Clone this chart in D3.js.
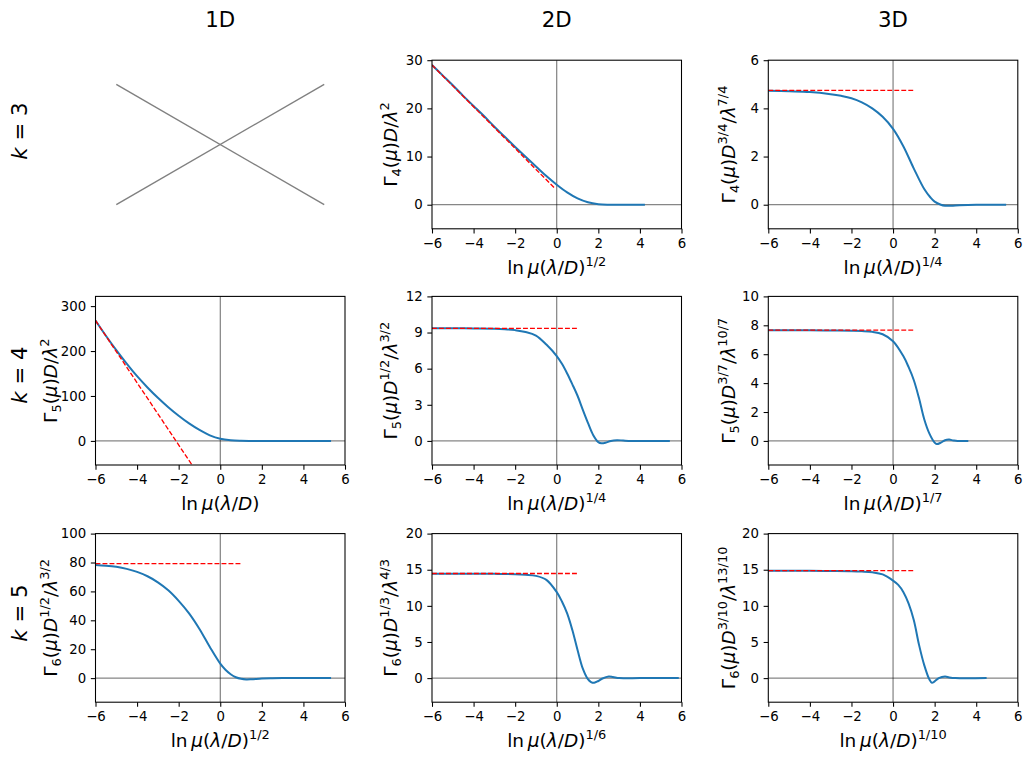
<!DOCTYPE html>
<html><head><meta charset="utf-8">
<script src="https://cdn.jsdelivr.net/npm/d3@7"></script>
<style>body{margin:0;background:#fff} text{font-family:"DejaVu Sans",sans-serif;fill:#000}</style>
</head><body><svg id="c" width="1032" height="762"></svg>
<script>
// ---------------- data ----------------
const colTitles = ["1D", "2D", "3D"];
const rowLabels = ["k = 3", "k = 4", "k = 5"];
const xTicks = [-6, -4, -2, 0, 2, 4, 6];

// placeholder cross in the empty (1D, k=3) cell
const crossX = [0, 1];
const crossUp = [0, 1];
const crossDown = [1, 0];

// k = 3
const k3_2D = [[-6,29.0],[-5.5,26.9],[-5,24.8],[-4.5,22.6],[-4,20.5],[-3.5,18.4],[-3,16.2],[-2.5,14.1],[-2,12.0],[-1.5,9.95],[-1,7.95],[-0.5,5.95],[0,4.15],[0.5,2.55],[1,1.3],[1.5,0.5],[2,0.12],[2.5,0.01],[3,0],[3.5,0],[4.24,0]];
const k3_2D_asym = [[-6,29.0],[-0.08,3.35]];
const k3_3D = [[-6,4.73],[-5,4.71],[-4,4.68],[-3,4.59],[-2.5,4.52],[-2,4.42],[-1.5,4.25],[-1,4.0],[-0.5,3.65],[0,3.15],[0.5,2.42],[1,1.5],[1.5,0.65],[1.8,0.3],[2,0.13],[2.3,0.0],[2.5,-0.04],[2.8,-0.04],[3.2,-0.02],[4,0],[5.44,0]];
const k3_3D_asym = [[-6,4.75],[1.03,4.75]];
// k = 4
const k4_1D = [[-6,268],[-5.5,234],[-5,202],[-4.5,172],[-4,144],[-3.5,119],[-3,96],[-2.5,75],[-2,56],[-1.5,39],[-1,24.5],[-0.5,12.5],[0,4.8],[0.5,1.4],[1,0.3],[1.5,0.05],[2,0],[5.33,0]];
const k4_1D_asym = [[-6,268],[-1.3,-57.5]];
const k4_2D = [[-6,9.35],[-5,9.35],[-4,9.34],[-3,9.32],[-2.5,9.28],[-2,9.2],[-1.5,9.05],[-1,8.75],[-0.5,8.0],[0,7.05],[0.25,6.4],[0.5,5.6],[0.75,4.7],[1,3.75],[1.25,2.6],[1.5,1.5],[1.75,0.5],[2,-0.1],[2.15,-0.2],[2.35,-0.15],[2.6,0],[2.9,0.06],[3.2,0.03],[3.6,0],[5.44,0]];
const k4_2D_asym = [[-6,9.35],[1.0,9.35]];
const k4_3D = [[-6,7.65],[-4,7.65],[-3,7.64],[-2,7.62],[-1.5,7.6],[-1,7.55],[-0.5,7.38],[0,6.9],[0.5,5.85],[0.75,5.1],[1,4.2],[1.25,2.95],[1.5,1.5],[1.75,0.5],[2,-0.12],[2.1,-0.22],[2.3,-0.12],[2.5,0.05],[2.7,0.09],[2.9,0.03],[3.1,-0.01],[3.62,0]];
const k4_3D_asym = [[-6,7.67],[1.03,7.67]];
// k = 5
const k5_1D = [[-6,78.3],[-5.5,77.8],[-5,77.0],[-4.5,75.6],[-4,73.5],[-3.5,70.5],[-3,66.3],[-2.5,60.8],[-2,53.5],[-1.5,44.8],[-1,34],[-0.5,21.5],[0,10],[0.25,5.8],[0.5,2.7],[0.75,0.6],[1,-0.5],[1.25,-0.9],[1.5,-0.8],[2,-0.3],[2.5,-0.1],[3,0],[5.33,0]];
const k5_1D_asym = [[-6,79.2],[0.98,79.2]];
const k5_2D = [[-6,14.45],[-4,14.45],[-3,14.43],[-2,14.38],[-1.5,14.3],[-1,14.15],[-0.5,13.6],[0,11.9],[0.25,10.6],[0.5,8.95],[0.75,6.65],[1,3.9],[1.25,1.35],[1.5,-0.15],[1.65,-0.55],[1.8,-0.65],[2,-0.4],[2.2,-0.05],[2.5,0.22],[2.7,0.15],[3,0.0],[3.3,-0.02],[4,0],[5.87,0]];
const k5_2D_asym = [[-6,14.48],[1.0,14.48]];
const k5_3D = [[-6,14.85],[-4,14.85],[-3,14.83],[-2,14.8],[-1.5,14.75],[-1,14.65],[-0.5,14.35],[0,13.5],[0.25,12.9],[0.5,11.9],[0.75,10.3],[1,8.0],[1.25,4.6],[1.5,1.8],[1.75,-0.2],[1.87,-0.65],[2,-0.45],[2.2,0.0],[2.5,0.22],[2.7,0.1],[3,0],[4.5,0]];
const k5_3D_asym = [[-6,14.88],[1.03,14.88]];

const curves = [[null, k3_2D, k3_3D], [k4_1D, k4_2D, k4_3D], [k5_1D, k5_2D, k5_3D]];
const asyms  = [[null, k3_2D_asym, k3_3D_asym], [k4_1D_asym, k4_2D_asym, k4_3D_asym], [k5_1D_asym, k5_2D_asym, k5_3D_asym]];
const yTops  = [[null, 30, 6], [321.6, 12, 10], [100, 20, 20]];
const yTickVals = [
  [null, [0,10,20,30], [0,2,4,6]],
  [[0,100,200,300], [0,3,6,9,12], [0,2,4,6,8,10]],
  [[0,20,40,60,80,100], [0,5,10,15,20], [0,5,10,15,20]]
];
const yLabels = [
  [null, "Γ_{4}(μ)D/λ^{2}", "Γ_{4}(μ)D^{3/4}/λ^{7/4}"],
  ["Γ_{5}(μ)D/λ^{2}", "Γ_{5}(μ)D^{1/2}/λ^{3/2}", "Γ_{5}(μ)D^{3/7}/λ^{10/7}"],
  ["Γ_{6}(μ)D^{1/2}/λ^{3/2}", "Γ_{6}(μ)D^{1/3}/λ^{4/3}", "Γ_{6}(μ)D^{3/10}/λ^{13/10}"]
];
const xLabels = [
  [null, "ln\u2009μ(λ/D)^{1/2}", "ln\u2009μ(λ/D)^{1/4}"],
  ["ln\u2009μ(λ/D)", "ln\u2009μ(λ/D)^{1/4}", "ln\u2009μ(λ/D)^{1/7}"],
  ["ln\u2009μ(λ/D)^{1/2}", "ln\u2009μ(λ/D)^{1/6}", "ln\u2009μ(λ/D)^{1/10}"]
];

// ---------------- layout ----------------
const colLeft = [95.5, 432, 768.3];
const W = 249.5;
const rowTop = [60.2, 296.4, 533.6];
const H = 168.6;
const yLabBase = [57, 397, 735];
const rowLabCenter = [131, 375, 613];
const FS_TICK = 13.3, FS_LAB = 18.5, FS_TITLE = 21.3;

const svg = d3.select("#c");

function parse(str) {
  const segs = []; let i = 0;
  while (i < str.length) {
    const c = str[i];
    if ((c === "_" || c === "^") && str[i+1] === "{") {
      const j = str.indexOf("}", i);
      segs.push({t: str.slice(i+2, j), s: c === "_" ? "sub" : "sup"});
      i = j + 1;
    } else {
      segs.push({t: c, it: "μλDk".includes(c)});
      i++;
    }
  }
  return segs;
}
function rich(text, str, fs) {
  let cur = 0;
  parse(str).forEach(sg => {
    const target = sg.s === "sub" ? 0.22*fs : sg.s === "sup" ? -0.42*fs : 0;
    const ts = text.append("tspan").text(sg.t).attr("dy", (target - cur).toFixed(2));
    cur = target;
    if (sg.it) ts.attr("font-style", "italic");
    if (sg.s) ts.attr("font-size", (0.7*fs).toFixed(2));
  });
}

// column titles
colTitles.forEach((t, c) => {
  svg.append("text").attr("x", colLeft[c] + W/2).attr("y", 27.3)
    .attr("text-anchor", "middle").attr("font-size", FS_TITLE).text(t);
});
// row labels
rowLabels.forEach((t, r) => {
  const tx = svg.append("text").attr("transform", `translate(26.5,${rowLabCenter[r]}) rotate(-90)`)
    .attr("text-anchor", "middle").attr("font-size", FS_TITLE);
  rich(tx, t, FS_TITLE);
});

// empty cell with cross
{
  const g = svg.append("g").attr("transform", `translate(${colLeft[0]},${rowTop[0]})`);
  const x = d3.scaleLinear().domain([-0.1, 1.1]).range([0, W]);
  const y = d3.scaleLinear().domain([-0.2, 1.2]).range([H, 0]);
  const line = d3.line().x(d => x(d[0])).y(d => y(d[1]));
  [crossUp, crossDown].forEach(ys => {
    g.append("path").attr("d", line(crossX.map((v, i) => [v, ys[i]])))
      .attr("fill", "none").attr("stroke", "#808080").attr("stroke-width", 1.4);
  });
}

let clipId = 0;
for (let r = 0; r < 3; r++) {
  for (let c = 0; c < 3; c++) {
    if (!curves[r][c]) continue;
    const L = colLeft[c], T = rowTop[r];
    const top = yTops[r][c];
    const x = d3.scaleLinear().domain([-6, 6]).range([0, W]);
    const y = d3.scaleLinear().domain([-top/6, top]).range([H, 0]);
    const g = svg.append("g").attr("transform", `translate(${L},${T})`);
    const cid = "clip" + (clipId++);
    g.append("clipPath").attr("id", cid).append("rect").attr("width", W).attr("height", H);
    const plot = g.append("g").attr("clip-path", `url(#${cid})`);

    // reference lines
    plot.append("line").attr("x1", x(0)).attr("x2", x(0)).attr("y1", 0).attr("y2", H)
      .attr("stroke", "#000").attr("stroke-width", 0.8).attr("stroke-opacity", 0.75);
    plot.append("line").attr("x1", 0).attr("x2", W).attr("y1", y(0)).attr("y2", y(0))
      .attr("stroke", "#000").attr("stroke-width", 0.8).attr("stroke-opacity", 0.75);

    const line = d3.line().x(d => x(d[0])).y(d => y(d[1]));
    plot.append("path").attr("d", line.curve(d3.curveCatmullRom.alpha(0.5))(curves[r][c]))
      .attr("fill", "none").attr("stroke", "#1f77b4").attr("stroke-width", 2);
    plot.append("path").attr("d", d3.line().x(d => x(d[0])).y(d => y(d[1]))(asyms[r][c]))
      .attr("fill", "none").attr("stroke", "red").attr("stroke-width", 1.33)
      .attr("stroke-dasharray", "4.9,2.1");

    // axes
    const ax = g.append("g").attr("transform", `translate(0,${H})`)
      .call(d3.axisBottom(x).tickValues(xTicks).tickSize(4.67).tickPadding(4.67).tickFormat(d3.format("d")));
    const ay = g.append("g")
      .call(d3.axisLeft(y).tickValues(yTickVals[r][c]).tickSize(4.67).tickPadding(4.67).tickFormat(d3.format("d")));
    [ax, ay].forEach(a => {
      a.select(".domain").remove();
      a.selectAll(".tick line").attr("stroke", "#000").attr("stroke-width", 1.07);
      a.selectAll(".tick text").attr("font-size", FS_TICK).attr("font-family", "DejaVu Sans").attr("fill", "#000");
    });
    g.append("rect").attr("width", W).attr("height", H).attr("fill", "none")
      .attr("stroke", "#000").attr("stroke-width", 1.07);

    // labels
    const xl = g.append("text").attr("x", W/2).attr("y", H + 45)
      .attr("text-anchor", "middle").attr("font-size", FS_LAB);
    rich(xl, xLabels[r][c], FS_LAB);
    const yl = svg.append("text")
      .attr("transform", `translate(${yLabBase[c]},${T + H/2}) rotate(-90)`)
      .attr("text-anchor", "middle").attr("font-size", FS_LAB);
    rich(yl, yLabels[r][c], FS_LAB);
  }
}
</script></body></html>
